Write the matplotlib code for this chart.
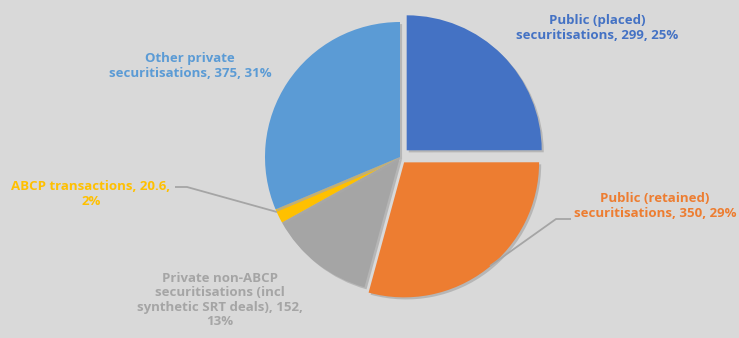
import matplotlib.pyplot as plt
import matplotlib.patheffects as pe

categories = ['Public (placed)\nsecuritisations', 'Public (retained)\nsecuritisations',
              'Private non-ABCP\nsecuritisations (incl\nsynthetic SRT deals)',
              'ABCP transactions', 'Other private\nsecuritisations']
values = [299, 350, 152, 20.6, 375]
percents = [25, 29, 13, 2, 31]
colors = ['#4472C4', '#ED7D31', '#A5A5A5', '#FFC000', '#5B9BD5']
explode = [0.07, 0.05, 0.0, 0.0, 0.0]

bg = '#D9D9D9'
R = 135.0  # pie radius in pixels
CX, CY = 400, 157  # pie centre in pixels (from top-left)


def px(x, y):
    return (x - CX) / R, (CY - y) / R


fig = plt.figure(figsize=(7.39, 3.38), dpi=100, facecolor=bg)
ax = fig.add_axes([0, 0, 1, 1])
ax.set_facecolor(bg)

wedges, _ = ax.pie(values, colors=colors, startangle=90, counterclock=False,
                   explode=explode, radius=1.0,
                   wedgeprops=dict(linewidth=0))
for w in wedges:
    w.set_path_effects([pe.SimplePatchShadow(offset=(1.5, -1.5), shadow_rgbFace='#a8a8a8', alpha=0.7),
                        pe.Normal()])
ax.set_xlim(-CX / R, (739 - CX) / R)
ax.set_ylim(-(338 - CY) / R, CY / R)
ax.set_aspect('equal')
ax.axis('off')

texts = [
    f'Public (placed)\nsecuritisations, {values[0]:g}, {percents[0]}%',
    f'Public (retained)\nsecuritisations, {values[1]:g}, {percents[1]}%',
    f'Private non-ABCP\nsecuritisations (incl\nsynthetic SRT deals), {values[2]:g},\n{percents[2]}%',
    f'ABCP transactions, {values[3]:g},\n{percents[3]}%',
    f'Other private\nsecuritisations, {values[4]:g}, {percents[4]}%',
]
text_pos = [(597, 28), (655, 206), (220, 300), (91, 194), (190, 66)]
font = dict(family=['Open Sans', 'DejaVu Sans'], fontsize=9.5, fontweight='bold',
            ha='center', va='center', linespacing=1.15)

for i, (t, p) in enumerate(zip(texts, text_pos)):
    ax.text(*px(*p), t, color=colors[i], **font)

# leader lines
line_kw = dict(color='#A5A5A5', lw=1.3, solid_capstyle='butt')
ax.plot(*zip(px(175, 187), px(187, 187), px(277, 212)), **line_kw)
ax.plot(*zip(px(571, 219), px(556, 219), px(490, 266)), **line_kw)

fig.savefig('out.png', dpi=100, facecolor=bg)
